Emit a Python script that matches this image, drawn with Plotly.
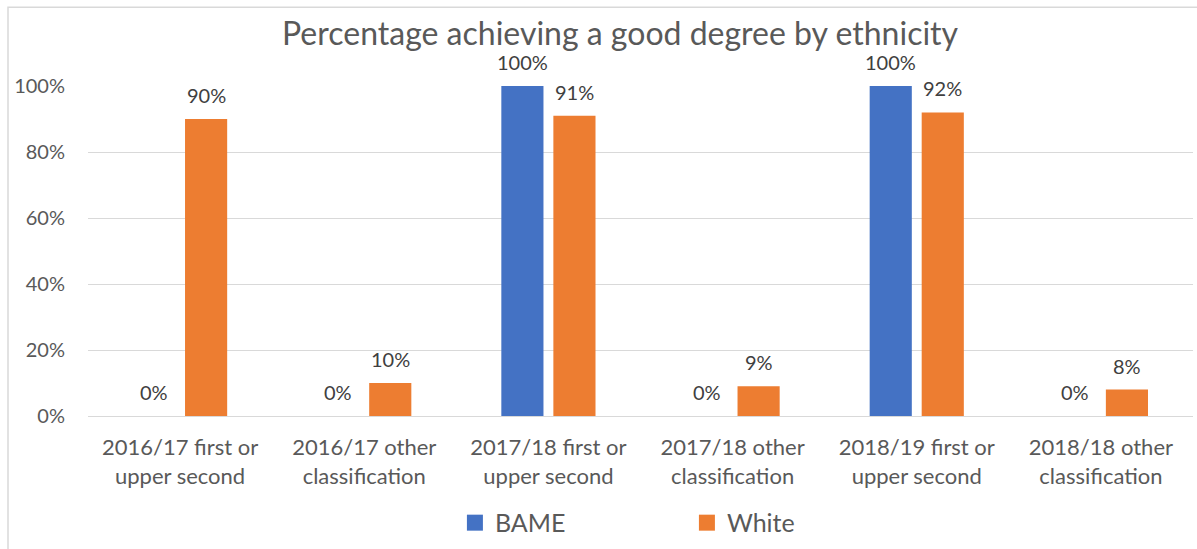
import plotly.graph_objects as go

# Category labels (two-line) and the share of each group in them
categories = [
    "2016/17 first or<br>upper second",
    "2016/17 other<br>classification",
    "2017/18 first or<br>upper second",
    "2017/18 other<br>classification",
    "2018/19 first or<br>upper second",
    "2018/18 other<br>classification",
]
bame = [0.00, 0.00, 1.00, 0.00, 1.00, 0.00]
white = [0.90, 0.10, 0.91, 0.09, 0.92, 0.08]

series_names = ["BAME", "White"]
series_colors = ["#4472C4", "#ED7D31"]

FONT = "Lato"
AXIS_GREY = "#595959"
LABEL_GREY = "#404040"
GRID = "#D9D9D9"

W, H = 1197, 549
M_L, M_R, M_T, M_B = 88, 4, 86, 132

fig = go.Figure()
for name, vals, col in zip(series_names, [bame, white], series_colors):
    fig.add_trace(go.Bar(
        x=categories, y=vals, name=name, showlegend=False,
        marker=dict(color=col, line=dict(width=0)),
    ))

# Legend entries with larger square swatches
for name, col in zip(series_names, series_colors):
    fig.add_trace(go.Scatter(
        x=[None], y=[None], mode="markers", name=name,
        marker=dict(symbol="square", size=17, color=col),
    ))

# Value labels above each bar, offset to sit over the grouped bar
plot_w = W - M_L - M_R
cat_w = plot_w / len(categories)
bargap, bargroupgap = 0.435, 0.19
slot = cat_w * (1 - bargap) / 2
offsets = [-slot / 2, slot / 2]
for vals, dx in zip([bame, white], offsets):
    for c, v in zip(categories, vals):
        fig.add_annotation(
            x=c, y=v, xref="x", yref="y", text=f"{v:.0%}",
            showarrow=False, xshift=dx, yshift=24, yanchor="middle",
            font=dict(family=FONT, size=20, color=LABEL_GREY),
        )

# Outer chart frame
plot_h = H - M_T - M_B
fig.add_shape(
    type="rect", xref="paper", yref="paper",
    x0=(8 - M_L) / plot_w, x1=(W + 20 - M_L) / plot_w,
    y0=(H - M_B - (H + 20)) / plot_h, y1=(H - M_B - 7) / plot_h,
    line=dict(color=GRID, width=1.5), fillcolor="rgba(0,0,0,0)", layer="below",
)

fig.update_layout(
    width=W, height=H,
    margin=dict(l=M_L, r=M_R, t=M_T, b=M_B),
    paper_bgcolor="white", plot_bgcolor="white",
    barmode="group", bargap=bargap, bargroupgap=bargroupgap,
    title=dict(
        text="Percentage achieving a good degree by ethnicity",
        x=0.518, xanchor="center", y=1 - 34 / H, yanchor="middle",
        font=dict(family=FONT, size=32, color=AXIS_GREY),
    ),
    font=dict(family=FONT, color=AXIS_GREY),
    legend=dict(
        orientation="h", x=0.542, xanchor="center", y=-0.32,
        yanchor="middle", font=dict(family=FONT, size=25, color=AXIS_GREY),
        entrywidth=187, traceorder="normal", itemsizing="trace",
    ),
    showlegend=True,
)

fig.update_yaxes(
    range=[0, 1], tickvals=[0, 0.2, 0.4, 0.6, 0.8, 1.0], tickformat=".0%",
    showgrid=True, gridcolor=GRID, gridwidth=1.3,
    zeroline=True, zerolinecolor=GRID, zerolinewidth=1.3,
    showline=False, ticks="", ticklabelstandoff=22,
    tickfont=dict(family=FONT, size=20, color=AXIS_GREY),
)
fig.update_xaxes(
    showline=False, ticks="", ticklabelstandoff=16,
    tickfont=dict(family=FONT, size=22, color=AXIS_GREY),
)

fig.write_html("out.html")
